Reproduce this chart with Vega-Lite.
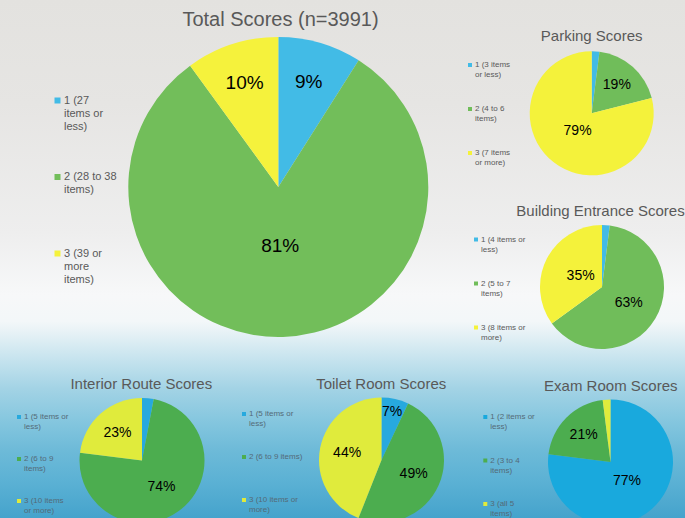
{
  "$schema": "https://vega.github.io/schema/vega-lite/v6.json",
  "width": 685,
  "height": 518,
  "autosize": {"type": "none"},
  "padding": 0,
  "background": "#e9e9e9",
  "config": {
    "font": "Liberation Sans",
    "view": {
      "stroke": null,
      "fill": {
        "gradient": "linear", "x1": 0, "y1": 0, "x2": 0, "y2": 1,
        "stops": [
          {"offset": 0, "color": "#e3e2df"},
          {"offset": 0.2, "color": "#e6e5e3"},
          {"offset": 0.45, "color": "#eeeeee"},
          {"offset": 0.57, "color": "#f7f8f9"},
          {"offset": 0.62, "color": "#f3f7f9"},
          {"offset": 0.64, "color": "#e8f2f6"},
          {"offset": 0.695, "color": "#c5e3ee"},
          {"offset": 0.75, "color": "#a3d3e5"},
          {"offset": 0.81, "color": "#86c7df"},
          {"offset": 0.87, "color": "#6dbad8"},
          {"offset": 0.93, "color": "#5bb1d4"},
          {"offset": 1, "color": "#45a3cc"}
        ]
      }
    },
    "legend": {
      "orient": "none",
      "symbolType": "square",
      "padding": 0,
      "labelOffset": 1,
      "gridAlign": "all",
      "labelLimit": 300,
      "symbolStrokeWidth": 0,
      "labelBaseline": "middle"
    }
  },
  "datasets": {
    "slices": [
      {"chart": "Total", "category": 1, "label": "1 (27\nitems or\nless)", "value": 0.09},
      {"chart": "Total", "category": 2, "label": "2 (28 to 38\nitems)", "value": 0.81},
      {"chart": "Total", "category": 3, "label": "3 (39 or\nmore\nitems)", "value": 0.10},
      {"chart": "Parking", "category": 1, "label": "1 (3 items\nor less)", "value": 0.02},
      {"chart": "Parking", "category": 2, "label": "2 (4 to 6\nitems)", "value": 0.19},
      {"chart": "Parking", "category": 3, "label": "3 (7 items\nor more)", "value": 0.79},
      {"chart": "Building", "category": 1, "label": "1 (4 items or\nless)", "value": 0.02},
      {"chart": "Building", "category": 2, "label": "2 (5 to 7\nitems)", "value": 0.63},
      {"chart": "Building", "category": 3, "label": "3 (8 items or\nmore)", "value": 0.35},
      {"chart": "Interior", "category": 1, "label": "1 (5 items or\nless)", "value": 0.03},
      {"chart": "Interior", "category": 2, "label": "2 (6 to 9\nitems)", "value": 0.74},
      {"chart": "Interior", "category": 3, "label": "3 (10 items\nor more)", "value": 0.23},
      {"chart": "Toilet", "category": 1, "label": "1 (5 items or\nless)", "value": 0.07},
      {"chart": "Toilet", "category": 2, "label": "2 (6 to 9 items)", "value": 0.49},
      {"chart": "Toilet", "category": 3, "label": "3 (10 items or\nmore)", "value": 0.44},
      {"chart": "Exam", "category": 1, "label": "1 (2 items or\nless)", "value": 0.77},
      {"chart": "Exam", "category": 2, "label": "2 (3 to 4\nitems)", "value": 0.21},
      {"chart": "Exam", "category": 3, "label": "3 (all 5\nitems)", "value": 0.02}
    ],
    "titles": [
      {"chart": "Total", "title": "Total Scores (n=3991)"},
      {"chart": "Parking", "title": "Parking Scores"},
      {"chart": "Building", "title": "Building Entrance Scores"},
      {"chart": "Interior", "title": "Interior Route Scores"},
      {"chart": "Toilet", "title": "Toilet Room Scores"},
      {"chart": "Exam", "title": "Exam Room Scores"}
    ]
  },
  "resolve": {"scale": {"color": "independent"}},
  "layer": [
    {
      "data": {"name": "slices"},
      "transform": [{"filter": "datum.chart === 'Total'"}],
      "mark": {"type": "arc", "radius": 150},
      "encoding": {
        "x": {"datum": 278.3, "type": "quantitative", "scale": {"domain": [0, 685], "nice": false, "zero": false}, "axis": null},
        "y": {"datum": 187, "type": "quantitative", "scale": {"domain": [0, 518], "reverse": true, "nice": false, "zero": false}, "axis": null},
        "theta": {"field": "value", "type": "quantitative", "stack": true},
        "order": {"field": "category", "type": "quantitative"},
        "color": {"field": "label", "type": "nominal", "scale": {"range": ["#42bbe6", "#72be5a", "#f5f23c"]},
          "legend": {"title": null, "legendX": 52, "legendY": 95, "symbolSize": 36, "labelFontSize": 11, "labelColor": "#595959", "rowPadding": 38.5, "labelExpr": "split(datum.label, '\\n')"}}
      }
    },
    {
      "data": {"name": "slices"},
      "transform": [{"filter": "datum.chart === 'Total'"}],
      "mark": {"type": "text", "radius": {"expr": "datum.value > 0.5 ? 59 : 109"}, "fontSize": 19, "color": "#000000"},
      "encoding": {
        "x": {"datum": 278.3, "type": "quantitative"},
        "y": {"datum": 187, "type": "quantitative"},
        "theta": {"field": "value", "type": "quantitative", "stack": true},
        "order": {"field": "category", "type": "quantitative"},
        "text": {"field": "value", "type": "quantitative", "format": ".0%", "condition": {"test": "datum.value < 0.05", "value": ""}}
      }
    },
    {
      "data": {"name": "titles"},
      "transform": [{"filter": "datum.chart === 'Total'"}],
      "mark": {"type": "text", "fontSize": 20, "color": "#595959", "align": "center", "baseline": "alphabetic"},
      "encoding": {
        "x": {"datum": 280.5, "type": "quantitative"},
        "y": {"datum": 26, "type": "quantitative"},
        "text": {"field": "title", "type": "nominal"}
      }
    },
    {
      "data": {"name": "slices"},
      "transform": [{"filter": "datum.chart === 'Parking'"}],
      "mark": {"type": "arc", "radius": 62},
      "encoding": {
        "x": {"datum": 591.7, "type": "quantitative"},
        "y": {"datum": 113.3, "type": "quantitative"},
        "theta": {"field": "value", "type": "quantitative", "stack": true},
        "order": {"field": "category", "type": "quantitative"},
        "color": {"field": "label", "type": "nominal", "scale": {"range": ["#42bbe6", "#70bd5a", "#f4f23b"]},
          "legend": {"title": null, "legendX": 466, "legendY": 61, "symbolSize": 16, "labelFontSize": 8, "labelColor": "#595959", "rowPadding": 26, "labelExpr": "split(datum.label, '\\n')"}}
      }
    },
    {
      "data": {"name": "slices"},
      "transform": [{"filter": "datum.chart === 'Parking'"}],
      "mark": {"type": "text", "radius": {"expr": "datum.value > 0.5 ? 23 : 38"}, "fontSize": 14, "color": "#000000"},
      "encoding": {
        "x": {"datum": 591.7, "type": "quantitative"},
        "y": {"datum": 113.3, "type": "quantitative"},
        "theta": {"field": "value", "type": "quantitative", "stack": true},
        "order": {"field": "category", "type": "quantitative"},
        "text": {"field": "value", "type": "quantitative", "format": ".0%", "condition": {"test": "datum.value < 0.05", "value": ""}}
      }
    },
    {
      "data": {"name": "titles"},
      "transform": [{"filter": "datum.chart === 'Parking'"}],
      "mark": {"type": "text", "fontSize": 15, "color": "#595959", "align": "center", "baseline": "alphabetic"},
      "encoding": {
        "x": {"datum": 591.7, "type": "quantitative"},
        "y": {"datum": 40.7, "type": "quantitative"},
        "text": {"field": "title", "type": "nominal"}
      }
    },
    {
      "data": {"name": "slices"},
      "transform": [{"filter": "datum.chart === 'Building'"}],
      "mark": {"type": "arc", "radius": 62},
      "encoding": {
        "x": {"datum": 602, "type": "quantitative"},
        "y": {"datum": 287, "type": "quantitative"},
        "theta": {"field": "value", "type": "quantitative", "stack": true},
        "order": {"field": "category", "type": "quantitative"},
        "color": {"field": "label", "type": "nominal", "scale": {"range": ["#42bbe6", "#70bd5a", "#f4f23b"]},
          "legend": {"title": null, "legendX": 472, "legendY": 235.5, "symbolSize": 16, "labelFontSize": 8, "labelColor": "#595959", "rowPadding": 26, "labelExpr": "split(datum.label, '\\n')"}}
      }
    },
    {
      "data": {"name": "slices"},
      "transform": [{"filter": "datum.chart === 'Building'"}],
      "mark": {"type": "text", "radius": {"expr": "datum.value > 0.5 ? 31 : 24"}, "fontSize": 14, "color": "#000000"},
      "encoding": {
        "x": {"datum": 602, "type": "quantitative"},
        "y": {"datum": 287, "type": "quantitative"},
        "theta": {"field": "value", "type": "quantitative", "stack": true},
        "order": {"field": "category", "type": "quantitative"},
        "text": {"field": "value", "type": "quantitative", "format": ".0%", "condition": {"test": "datum.value < 0.05", "value": ""}}
      }
    },
    {
      "data": {"name": "titles"},
      "transform": [{"filter": "datum.chart === 'Building'"}],
      "mark": {"type": "text", "fontSize": 15, "color": "#595959", "align": "center", "baseline": "alphabetic"},
      "encoding": {
        "x": {"datum": 600.5, "type": "quantitative"},
        "y": {"datum": 215.7, "type": "quantitative"},
        "text": {"field": "title", "type": "nominal"}
      }
    },
    {
      "data": {"name": "slices"},
      "transform": [{"filter": "datum.chart === 'Interior'"}],
      "mark": {"type": "arc", "radius": 62.5},
      "encoding": {
        "x": {"datum": 142, "type": "quantitative"},
        "y": {"datum": 460.5, "type": "quantitative"},
        "theta": {"field": "value", "type": "quantitative", "stack": true},
        "order": {"field": "category", "type": "quantitative"},
        "color": {"field": "label", "type": "nominal", "scale": {"range": ["#27a9de", "#4cad4f", "#e0eb3c"]},
          "legend": {"title": null, "legendX": 15, "legendY": 413, "symbolSize": 16, "labelFontSize": 8, "labelColor": "#546a77", "rowPadding": 24, "labelExpr": "split(datum.label, '\\n')"}}
      }
    },
    {
      "data": {"name": "slices"},
      "transform": [{"filter": "datum.chart === 'Interior'"}],
      "mark": {"type": "text", "radius": {"expr": "datum.value > 0.5 ? 33 : 37"}, "fontSize": 14, "color": "#000000"},
      "encoding": {
        "x": {"datum": 142, "type": "quantitative"},
        "y": {"datum": 460.5, "type": "quantitative"},
        "theta": {"field": "value", "type": "quantitative", "stack": true},
        "order": {"field": "category", "type": "quantitative"},
        "text": {"field": "value", "type": "quantitative", "format": ".0%", "condition": {"test": "datum.value < 0.05", "value": ""}}
      }
    },
    {
      "data": {"name": "titles"},
      "transform": [{"filter": "datum.chart === 'Interior'"}],
      "mark": {"type": "text", "fontSize": 15, "color": "#595959", "align": "center", "baseline": "alphabetic"},
      "encoding": {
        "x": {"datum": 141.3, "type": "quantitative"},
        "y": {"datum": 389, "type": "quantitative"},
        "text": {"field": "title", "type": "nominal"}
      }
    },
    {
      "data": {"name": "slices"},
      "transform": [{"filter": "datum.chart === 'Toilet'"}],
      "mark": {"type": "arc", "radius": 62.5},
      "encoding": {
        "x": {"datum": 381.5, "type": "quantitative"},
        "y": {"datum": 460, "type": "quantitative"},
        "theta": {"field": "value", "type": "quantitative", "stack": true},
        "order": {"field": "category", "type": "quantitative"},
        "color": {"field": "label", "type": "nominal", "scale": {"range": ["#27a9de", "#4cad4f", "#e0eb3c"]},
          "legend": {"title": null, "legendX": 240, "legendY": 410, "symbolSize": 16, "labelFontSize": 8, "labelColor": "#546a77", "rowPadding": 25, "labelExpr": "split(datum.label, '\\n')"}}
      }
    },
    {
      "data": {"name": "slices"},
      "transform": [{"filter": "datum.chart === 'Toilet'"}],
      "mark": {"type": "text", "radius": {"expr": "datum.value < 0.1 ? 49 : 35"}, "fontSize": 14, "color": "#000000"},
      "encoding": {
        "x": {"datum": 381.5, "type": "quantitative"},
        "y": {"datum": 460, "type": "quantitative"},
        "theta": {"field": "value", "type": "quantitative", "stack": true},
        "order": {"field": "category", "type": "quantitative"},
        "text": {"field": "value", "type": "quantitative", "format": ".0%", "condition": {"test": "datum.value < 0.05", "value": ""}}
      }
    },
    {
      "data": {"name": "titles"},
      "transform": [{"filter": "datum.chart === 'Toilet'"}],
      "mark": {"type": "text", "fontSize": 15, "color": "#595959", "align": "center", "baseline": "alphabetic"},
      "encoding": {
        "x": {"datum": 381.2, "type": "quantitative"},
        "y": {"datum": 389.3, "type": "quantitative"},
        "text": {"field": "title", "type": "nominal"}
      }
    },
    {
      "data": {"name": "slices"},
      "transform": [{"filter": "datum.chart === 'Exam'"}],
      "mark": {"type": "arc", "radius": 62.5},
      "encoding": {
        "x": {"datum": 610.5, "type": "quantitative"},
        "y": {"datum": 462, "type": "quantitative"},
        "theta": {"field": "value", "type": "quantitative", "stack": true},
        "order": {"field": "category", "type": "quantitative"},
        "color": {"field": "label", "type": "nominal", "scale": {"range": ["#19a9dd", "#4cad4f", "#e0eb3c"]},
          "legend": {"title": null, "legendX": 481.3, "legendY": 413, "symbolSize": 16, "labelFontSize": 8, "labelColor": "#546a77", "rowPadding": 25.5, "labelExpr": "split(datum.label, '\\n')"}}
      }
    },
    {
      "data": {"name": "slices"},
      "transform": [{"filter": "datum.chart === 'Exam'"}],
      "mark": {"type": "text", "radius": {"expr": "datum.value > 0.5 ? 25 : 38"}, "fontSize": 14, "color": "#000000"},
      "encoding": {
        "x": {"datum": 610.5, "type": "quantitative"},
        "y": {"datum": 462, "type": "quantitative"},
        "theta": {"field": "value", "type": "quantitative", "stack": true},
        "order": {"field": "category", "type": "quantitative"},
        "text": {"field": "value", "type": "quantitative", "format": ".0%", "condition": {"test": "datum.value < 0.05", "value": ""}}
      }
    },
    {
      "data": {"name": "titles"},
      "transform": [{"filter": "datum.chart === 'Exam'"}],
      "mark": {"type": "text", "fontSize": 15, "color": "#595959", "align": "center", "baseline": "alphabetic"},
      "encoding": {
        "x": {"datum": 610.8, "type": "quantitative"},
        "y": {"datum": 390.7, "type": "quantitative"},
        "text": {"field": "title", "type": "nominal"}
      }
    }
  ]
}
